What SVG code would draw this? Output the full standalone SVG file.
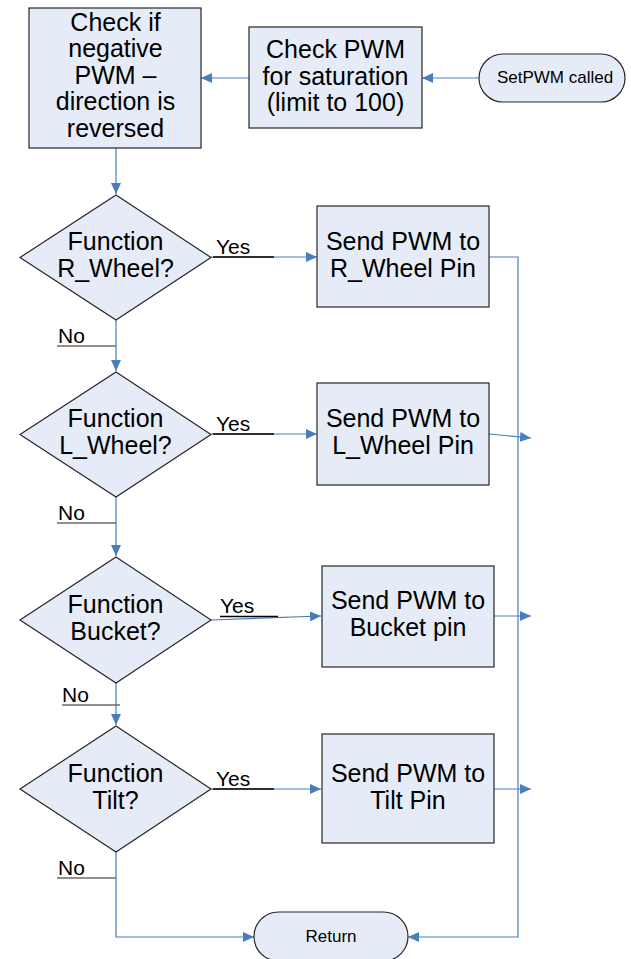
<svg xmlns="http://www.w3.org/2000/svg" width="631" height="959" viewBox="0 0 631 959">
<style>
.shape{fill:#e6ecf7;stroke:#262626;stroke-width:1.2}
.t{font-family:"Liberation Sans",Arial,sans-serif;font-size:25px;fill:#000;text-anchor:middle}
.s{font-family:"Liberation Sans",Arial,sans-serif;font-size:17px;fill:#000;text-anchor:middle}
.lbl{font-family:"Liberation Sans",Arial,sans-serif;font-size:21px;fill:#000}
.con{fill:none;stroke:#4a7ebb;stroke-width:1.2}
.ul-yes{stroke:#000;stroke-width:1.3}
.ul-no{stroke:#6b6b6b;stroke-width:1.5}
</style>
<defs>
<marker id="arr" markerUnits="userSpaceOnUse" markerWidth="12" markerHeight="10" viewBox="0 0 12 10" refX="11" refY="5" orient="auto">
<path d="M0,0 L11,5 L0,10 Z" fill="#4a7ebb"/>
</marker>
</defs>
<rect width="631" height="959" fill="#fff"/>
<g id="connectors">
<path class="con" d="M479,78 H422" marker-end="url(#arr)"/>
<path class="con" d="M249,78 H201" marker-end="url(#arr)"/>
<path class="con" d="M116,148 V194" marker-end="url(#arr)"/>
<path class="con" d="M211,257 H317" marker-end="url(#arr)"/>
<path class="con" d="M116,320 V371" marker-end="url(#arr)"/>
<path class="con" d="M211,434 H317" marker-end="url(#arr)"/>
<path class="con" d="M116,497 V556" marker-end="url(#arr)"/>
<path class="con" d="M211,620 L321,616" marker-end="url(#arr)"/>
<path class="con" d="M116,683 V725" marker-end="url(#arr)"/>
<path class="con" d="M211,789 H321" marker-end="url(#arr)"/>
<path class="con" d="M116,852 V937 H254" marker-end="url(#arr)"/>
<path class="con" d="M489,257 H518 V937 H408" marker-end="url(#arr)"/>
<path class="con" d="M489,434 L531,438" marker-end="url(#arr)"/>
<path class="con" d="M494,616 H531" marker-end="url(#arr)"/>
<path class="con" d="M494,789 H531" marker-end="url(#arr)"/>
</g>
<g id="labels">
<line class="ul-yes" x1="213" y1="257" x2="274" y2="257"/>
<text class="lbl" x="216" y="254">Yes</text>
<line class="ul-yes" x1="213" y1="434" x2="274" y2="434"/>
<text class="lbl" x="216" y="431">Yes</text>
<line class="ul-yes" x1="220" y1="616.5" x2="278" y2="616.5"/>
<text class="lbl" x="220" y="613">Yes</text>
<line class="ul-yes" x1="213" y1="789" x2="274" y2="789"/>
<text class="lbl" x="216" y="786">Yes</text>
<line class="ul-no" x1="57" y1="346" x2="116" y2="346"/>
<text class="lbl" x="58" y="343">No</text>
<line class="ul-no" x1="57" y1="523" x2="116" y2="523"/>
<text class="lbl" x="58" y="520">No</text>
<line class="ul-no" x1="62" y1="705" x2="120" y2="705"/>
<text class="lbl" x="62" y="702">No</text>
<line class="ul-no" x1="57" y1="878" x2="116" y2="878"/>
<text class="lbl" x="58" y="875">No</text>
</g>
<g id="start">
<rect class="shape" x="479" y="54" width="146" height="48" rx="24" ry="24"/>
<text class="s" x="555" y="83">SetPWM called</text>
</g>
<g id="check-saturation">
<rect class="shape" x="249" y="27" width="173" height="101"/>
<text class="t" x="335.5" y="58">Check PWM</text>
<text class="t" x="335.5" y="84.5">for saturation</text>
<text class="t" x="335.5" y="111">(limit to 100)</text>
</g>
<g id="check-negative">
<rect class="shape" x="29" y="8" width="172" height="140"/>
<text class="t" x="115.5" y="30.5">Check if</text>
<text class="t" x="115.5" y="57">negative</text>
<text class="t" x="115.5" y="83.5">PWM –</text>
<text class="t" x="115.5" y="110">direction is</text>
<text class="t" x="115.5" y="136.5">reversed</text>
</g>
<g id="dec-rwheel">
<polygon class="shape" points="116,195 211,257.5 116,320 20,257.5"/>
<text class="t" x="115.5" y="250">Function</text>
<text class="t" x="115.5" y="277">R_Wheel?</text>
</g>
<g id="send-rwheel">
<rect class="shape" x="317" y="206" width="172" height="101"/>
<text class="t" x="403" y="250">Send PWM to</text>
<text class="t" x="403" y="277">R_Wheel Pin</text>
</g>
<g id="dec-lwheel">
<polygon class="shape" points="116,372 211,434.5 116,497 20,434.5"/>
<text class="t" x="115.5" y="427">Function</text>
<text class="t" x="115.5" y="454">L_Wheel?</text>
</g>
<g id="send-lwheel">
<rect class="shape" x="317" y="383" width="172" height="102"/>
<text class="t" x="403" y="427">Send PWM to</text>
<text class="t" x="403" y="454">L_Wheel Pin</text>
</g>
<g id="dec-bucket">
<polygon class="shape" points="116,557 211,620 116,683 20,620"/>
<text class="t" x="115.5" y="612.5">Function</text>
<text class="t" x="115.5" y="639.5">Bucket?</text>
</g>
<g id="send-bucket">
<rect class="shape" x="322" y="566" width="172" height="101"/>
<text class="t" x="408" y="609">Send PWM to</text>
<text class="t" x="408" y="636">Bucket pin</text>
</g>
<g id="dec-tilt">
<polygon class="shape" points="116,726 211,789 116,852 20,789"/>
<text class="t" x="115.5" y="781.5">Function</text>
<text class="t" x="115.5" y="808.5">Tilt?</text>
</g>
<g id="send-tilt">
<rect class="shape" x="322" y="734" width="172" height="109"/>
<text class="t" x="408" y="782">Send PWM to</text>
<text class="t" x="408" y="809">Tilt Pin</text>
</g>
<g id="return">
<rect class="shape" x="254" y="912" width="154" height="49" rx="24.5" ry="24.5"/>
<text class="s" x="331" y="942">Return</text>
</g>
</svg>
